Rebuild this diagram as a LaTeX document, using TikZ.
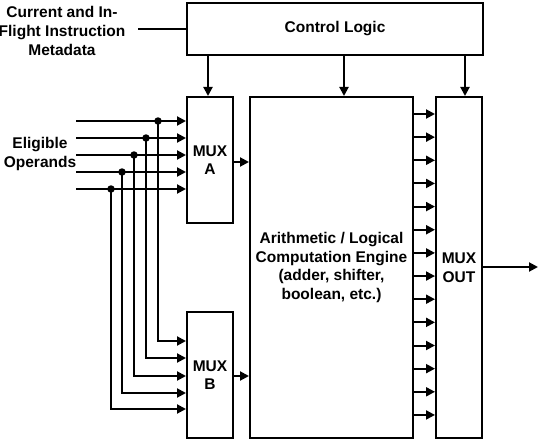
\documentclass[tikz,border=0pt]{standalone}
\usepackage{fontspec}
\setmainfont{Liberation Sans}
\usetikzlibrary{arrows.meta}
\begin{document}
\begin{tikzpicture}[x=1pt,y=-1pt,
  box/.style={draw, line width=2pt, inner sep=0pt, font=\bfseries\fontsize{15.5}{18.5}\selectfont, align=center},
  lbl/.style={inner sep=0pt, font=\bfseries\fontsize{15.5}{19}\selectfont, align=center},
  wire/.style={line width=2pt},
  arr/.style={wire, -{Triangle[length=9pt,width=9pt]}},
  jdot/.style={circle, fill, inner sep=0pt, minimum size=7.5pt}]
\useasboundingbox (0,0) rectangle (540,441);

% boxes
\node[box, minimum width=296pt, minimum height=52pt] (ctrl) at (335,29) {Control Logic};
\node[box, minimum width=46pt, minimum height=126pt] (muxA) at (210,160) {MUX\\A};
\node[box, minimum width=46pt, minimum height=126pt] (muxB) at (210,375) {MUX\\B};
\node[box, minimum width=163pt, minimum height=341pt] (eng) at (331.5,267.5) {Arithmetic / Logical\\Computation Engine\\(adder, shifter,\\boolean, etc.)};
\node[box, minimum width=46pt, minimum height=341pt] (mout) at (459,267.5) {MUX\\OUT};

% labels
\node[lbl] (meta) at (62,31) {Current and In-\\Flight Instruction\\Metadata};
\node[lbl] (ops) at (40,154) {Eligible\\Operands};

% metadata wire
\coordinate (ms) at (138,29);
\draw[wire] (ms) -- (ms -| ctrl.west);

% control arrows
\coordinate (ca) at (208,0);
\coordinate (ce) at (344,0);
\coordinate (co) at (465,0);
\draw[arr] (ctrl.south -| ca) -- (muxA.north -| ca);
\draw[arr] (ctrl.south -| ce) -- (eng.north -| ce);
\draw[arr] (ctrl.south -| co) -- (mout.north -| co);

% operand inputs
\foreach \i/\ya/\xd/\yb in {1/121/158/341, 2/138/146/358, 3/155/134/376, 4/172/122/393, 5/189/111/409}{
  \coordinate (in\i) at (76,\ya);
  \coordinate (bb\i) at (\xd,\yb);
  \node[jdot] (d\i) at (\xd,\ya) {};
  \draw[arr] (in\i) -- (in\i -| muxA.west);
  \draw[arr] (d\i.center) -- (bb\i) -- (bb\i -| muxB.west);
}

% mux outputs to engine
\coordinate (ya) at (0,162);
\coordinate (yb) at (0,376);
\draw[arr] (muxA.east |- ya) -- (eng.west |- ya);
\draw[arr] (muxB.east |- yb) -- (eng.west |- yb);

% engine to mux out
\foreach \k in {0,...,13}{
  \coordinate (r\k) at (0,{114+23.15*\k});
  \draw[arr] (eng.east |- r\k) -- (mout.west |- r\k);
}

% output
\coordinate (out) at (538,267);
\draw[arr] (mout.east |- out) -- (out);
\end{tikzpicture}
\end{document}
